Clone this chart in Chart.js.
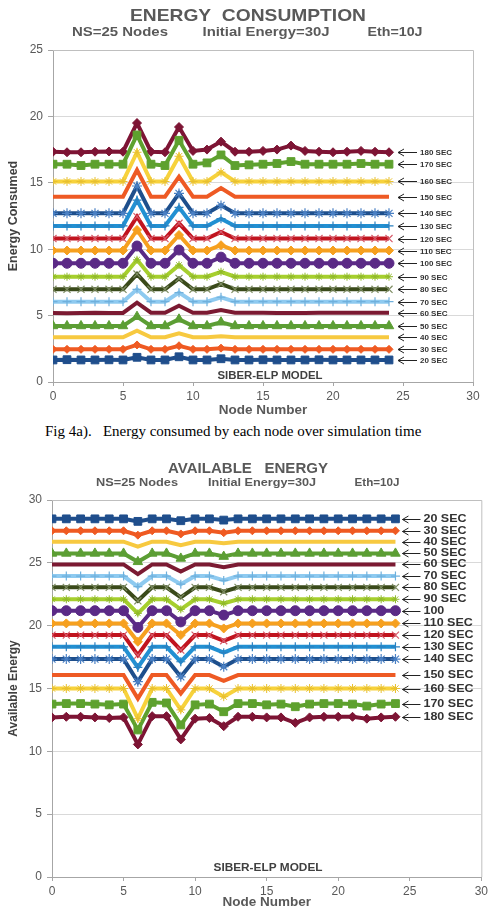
<!DOCTYPE html>
<html>
<head>
<meta charset="utf-8">
<script src="https://cdn.jsdelivr.net/npm/chart.js@4/dist/chart.umd.min.js"></script>
<style>
  html, body { margin: 0; padding: 0; background: #fff; }
  body { width: 491px; height: 907px; position: relative; overflow: hidden; }
  .box { position: absolute; left: 0; width: 491px; }
  #boxA { top: 0; height: 418px; }
  #boxB { top: 440px; height: 470px; }
  #caption {
    position: absolute; top: 423px; left: 45px;
    font: 15px "Liberation Serif", "Times New Roman", serif;
    color: #000; white-space: pre;
  }
</style>
</head>
<body>
<div class="box" id="boxA"><canvas id="chartA"></canvas></div>
<div id="caption">Fig 4a).   Energy consumed by each node over simulation time</div>
<div class="box" id="boxB"><canvas id="chartB"></canvas></div>
<script>
// ---------- data ----------
const nodes = [0, 1, 2, 3, 4, 5, 6, 7, 8, 9, 10, 11, 12, 13, 14, 15, 16, 17, 18, 19, 20, 21, 22, 23, 24];
const xTicks = [0, 5, 10, 15, 20, 25, 30];
const yTicksTop = [0, 5, 10, 15, 20, 25];
const yTicksBottom = [0, 5, 10, 15, 20, 25, 30];

const labelsTop = ["20 SEC", "30 SEC", "40 SEC", "50 SEC", "60 SEC", "70 SEC", "80 SEC", "90 SEC", "100 SEC",
  "110 SEC", "120 SEC", "130 SEC", "140 SEC", "150 SEC", "160 SEC", "170 SEC", "180 SEC"];
const labelsBottom = ["20 SEC", "30 SEC", "40 SEC", "50 SEC", "60 SEC", "70 SEC", "80 SEC", "90 SEC", "100",
  "110 SEC", "120 SEC", "130 SEC", "140 SEC", "150 SEC", "160 SEC", "170 SEC", "180 SEC"];

// energy consumed (top chart)
const used20  = [1.66, 1.68, 1.66, 1.66, 1.67, 1.66, 1.86, 1.66, 1.66, 1.90, 1.66, 1.66, 1.75, 1.66, 1.66, 1.67, 1.66, 1.66, 1.66, 1.67, 1.66, 1.66, 1.66, 1.66, 1.66];
const used30  = [2.46, 2.46, 2.46, 2.46, 2.46, 2.46, 2.79, 2.46, 2.46, 2.73, 2.46, 2.46, 2.55, 2.46, 2.46, 2.46, 2.46, 2.46, 2.46, 2.46, 2.46, 2.46, 2.46, 2.46, 2.46];
const used40  = [3.37, 3.37, 3.37, 3.37, 3.37, 3.37, 3.86, 3.37, 3.37, 3.67, 3.37, 3.37, 3.45, 3.37, 3.37, 3.37, 3.37, 3.37, 3.37, 3.37, 3.37, 3.37, 3.37, 3.37, 3.37];
const used50  = [4.22, 4.22, 4.22, 4.22, 4.22, 4.22, 4.92, 4.22, 4.22, 4.72, 4.22, 4.22, 4.50, 4.22, 4.22, 4.22, 4.22, 4.22, 4.22, 4.22, 4.22, 4.22, 4.22, 4.22, 4.22];
const used60  = [5.20, 5.18, 5.20, 5.22, 5.20, 5.20, 5.97, 5.22, 5.22, 5.75, 5.22, 5.22, 5.42, 5.22, 5.22, 5.22, 5.20, 5.20, 5.20, 5.22, 5.22, 5.22, 5.22, 5.22, 5.22];
const used70  = [6.05, 6.05, 6.05, 6.05, 6.05, 6.05, 6.98, 6.05, 6.05, 6.73, 6.05, 6.05, 6.38, 6.05, 6.05, 6.05, 6.05, 6.05, 6.05, 6.05, 6.05, 6.05, 6.05, 6.05, 6.05];
const used80  = [6.98, 6.98, 6.98, 6.98, 6.98, 6.98, 8.13, 6.98, 6.98, 7.80, 6.98, 6.98, 7.38, 6.98, 6.98, 6.98, 6.98, 6.98, 6.98, 6.98, 6.98, 6.98, 6.98, 6.98, 6.98];
const used90  = [7.93, 7.93, 7.93, 7.93, 7.93, 7.93, 9.20, 7.93, 7.93, 8.80, 7.93, 7.93, 8.30, 7.93, 7.93, 7.93, 7.93, 7.93, 7.93, 7.93, 7.93, 7.93, 7.93, 7.93, 7.93];
const used100 = [8.94, 8.94, 8.94, 8.94, 8.94, 8.94, 10.24, 8.94, 8.94, 9.94, 8.94, 8.94, 9.40, 8.94, 8.94, 8.94, 8.94, 8.94, 8.94, 8.94, 8.94, 8.94, 8.94, 8.94, 8.94];
const used110 = [9.90, 9.90, 9.90, 9.90, 9.90, 9.90, 11.45, 9.90, 9.90, 11.07, 9.90, 9.90, 10.30, 9.90, 9.90, 9.90, 9.90, 9.90, 9.90, 9.90, 9.90, 9.90, 9.90, 9.90, 9.90];
const used120 = [10.80, 10.80, 10.80, 10.80, 10.80, 10.80, 12.45, 10.80, 10.80, 11.95, 10.80, 10.80, 11.30, 10.80, 10.80, 10.80, 10.80, 10.80, 10.80, 10.80, 10.80, 10.80, 10.80, 10.80, 10.80];
const used130 = [11.75, 11.75, 11.75, 11.75, 11.75, 11.75, 13.70, 11.75, 11.75, 13.15, 11.75, 11.75, 12.30, 11.75, 11.75, 11.75, 11.75, 11.75, 11.75, 11.75, 11.75, 11.75, 11.75, 11.75, 11.75];
const used140 = [12.70, 12.70, 12.70, 12.70, 12.70, 12.70, 14.76, 12.70, 12.70, 14.20, 12.70, 12.70, 13.30, 12.70, 12.70, 12.70, 12.70, 12.70, 12.70, 12.70, 12.70, 12.70, 12.70, 12.70, 12.70];
const used150 = [13.95, 13.95, 13.95, 13.95, 13.95, 13.95, 15.96, 13.95, 13.95, 15.46, 13.95, 13.95, 14.60, 13.95, 13.95, 13.95, 13.95, 13.95, 13.95, 13.95, 13.95, 13.95, 13.95, 13.95, 13.95];
const used160 = [15.10, 15.10, 15.10, 15.10, 15.10, 15.10, 17.30, 15.10, 15.10, 17.00, 15.10, 15.10, 15.80, 15.10, 15.10, 15.10, 15.10, 15.10, 15.10, 15.10, 15.10, 15.10, 15.10, 15.10, 15.10];
const used170 = [16.40, 16.40, 16.30, 16.40, 16.40, 16.40, 18.60, 16.40, 16.30, 18.20, 16.40, 16.50, 17.10, 16.30, 16.35, 16.40, 16.45, 16.60, 16.40, 16.40, 16.40, 16.40, 16.45, 16.40, 16.40];
const used180 = [17.34, 17.30, 17.30, 17.34, 17.36, 17.34, 19.50, 17.34, 17.30, 19.20, 17.40, 17.50, 18.10, 17.34, 17.34, 17.40, 17.50, 17.80, 17.40, 17.34, 17.30, 17.34, 17.40, 17.34, 17.30];

// available energy (bottom chart)
const avail20  = [28.50, 28.50, 28.50, 28.50, 28.50, 28.50, 28.30, 28.50, 28.50, 28.35, 28.50, 28.50, 28.40, 28.50, 28.50, 28.50, 28.50, 28.50, 28.50, 28.50, 28.50, 28.50, 28.50, 28.50, 28.50];
const avail30  = [27.55, 27.55, 27.55, 27.55, 27.55, 27.55, 27.20, 27.55, 27.55, 27.30, 27.55, 27.55, 27.40, 27.55, 27.55, 27.55, 27.55, 27.55, 27.55, 27.55, 27.55, 27.55, 27.55, 27.55, 27.55];
const avail40  = [26.68, 26.68, 26.68, 26.68, 26.68, 26.68, 26.28, 26.68, 26.68, 26.40, 26.68, 26.68, 26.55, 26.68, 26.68, 26.68, 26.68, 26.68, 26.68, 26.68, 26.68, 26.68, 26.68, 26.68, 26.68];
const avail50  = [25.75, 25.75, 25.75, 25.75, 25.75, 25.75, 25.08, 25.75, 25.75, 25.35, 25.75, 25.75, 25.50, 25.75, 25.75, 25.75, 25.75, 25.75, 25.75, 25.75, 25.75, 25.75, 25.75, 25.75, 25.75];
const avail60  = [24.87, 24.87, 24.87, 24.87, 24.87, 24.87, 24.10, 24.87, 24.87, 24.30, 24.87, 24.87, 24.65, 24.87, 24.87, 24.87, 24.87, 24.87, 24.87, 24.87, 24.87, 24.87, 24.87, 24.87, 24.87];
const avail70  = [23.95, 23.95, 23.95, 23.95, 23.95, 23.95, 23.10, 23.95, 23.95, 23.30, 23.95, 23.95, 23.60, 23.95, 23.95, 23.95, 23.95, 23.95, 23.95, 23.95, 23.95, 23.95, 23.95, 23.95, 23.95];
const avail80  = [23.05, 23.05, 23.05, 23.05, 23.05, 23.05, 21.98, 23.05, 23.05, 22.25, 23.05, 23.05, 22.70, 23.05, 23.05, 23.05, 23.05, 23.05, 23.05, 23.05, 23.05, 23.05, 23.05, 23.05, 23.05];
const avail90  = [22.10, 22.10, 22.10, 22.10, 22.10, 22.10, 20.98, 22.10, 22.10, 21.30, 22.10, 22.10, 21.77, 22.10, 22.10, 22.10, 22.10, 22.10, 22.10, 22.10, 22.10, 22.10, 22.10, 22.10, 22.10];
const avail100 = [21.19, 21.19, 21.19, 21.19, 21.19, 21.19, 19.86, 21.19, 21.19, 20.30, 21.19, 21.19, 20.84, 21.19, 21.19, 21.19, 21.19, 21.19, 21.19, 21.19, 21.19, 21.19, 21.19, 21.19, 21.19];
const avail110 = [20.18, 20.18, 20.18, 20.18, 20.18, 20.18, 18.72, 20.18, 20.18, 19.25, 20.18, 20.18, 19.78, 20.18, 20.18, 20.18, 20.18, 20.18, 20.18, 20.18, 20.18, 20.18, 20.18, 20.18, 20.18];
const avail120 = [19.25, 19.25, 19.25, 19.25, 19.25, 19.25, 17.66, 19.25, 19.25, 18.06, 19.25, 19.25, 18.80, 19.25, 19.25, 19.25, 19.25, 19.25, 19.25, 19.25, 19.25, 19.25, 19.25, 19.25, 19.25];
const avail130 = [18.32, 18.32, 18.32, 18.32, 18.32, 18.32, 16.68, 18.32, 18.32, 17.13, 18.32, 18.32, 17.85, 18.32, 18.32, 18.32, 18.32, 18.32, 18.32, 18.32, 18.32, 18.32, 18.32, 18.32, 18.32];
const avail140 = [17.34, 17.34, 17.34, 17.34, 17.34, 17.34, 15.54, 17.34, 17.34, 15.93, 17.34, 17.34, 16.73, 17.34, 17.34, 17.34, 17.34, 17.34, 17.34, 17.34, 17.34, 17.34, 17.34, 17.34, 17.34];
const avail150 = [16.07, 16.07, 16.07, 16.07, 16.07, 16.07, 14.20, 16.07, 16.07, 14.60, 16.07, 16.07, 15.60, 16.07, 16.07, 16.07, 16.07, 16.07, 16.07, 16.07, 16.07, 16.07, 16.07, 16.07, 16.07];
const avail160 = [15.00, 15.00, 15.00, 15.00, 15.00, 15.00, 12.60, 15.00, 15.00, 13.30, 15.00, 15.00, 14.35, 15.00, 15.00, 15.00, 15.00, 15.00, 15.00, 15.00, 15.00, 15.00, 15.00, 15.00, 15.00];
const avail170 = [13.76, 13.80, 13.80, 13.76, 13.70, 13.76, 11.70, 13.90, 13.85, 12.10, 13.70, 13.76, 13.15, 13.80, 13.80, 13.70, 13.76, 13.55, 13.76, 13.80, 13.80, 13.76, 13.60, 13.76, 13.80];
const avail180 = [12.70, 12.75, 12.75, 12.70, 12.65, 12.70, 10.55, 12.80, 12.80, 10.95, 12.60, 12.65, 12.00, 12.75, 12.75, 12.70, 12.70, 12.27, 12.70, 12.75, 12.75, 12.75, 12.60, 12.70, 12.75];

const usedSeries = [used20, used30, used40, used50, used60, used70, used80, used90, used100,
  used110, used120, used130, used140, used150, used160, used170, used180];
const availSeries = [avail20, avail30, avail40, avail50, avail60, avail70, avail80, avail90, avail100,
  avail110, avail120, avail130, avail140, avail150, avail160, avail170, avail180];

// ---------- styles ----------
const lineColors = ["#1f4e8c", "#ef5a22", "#f7c940", "#5c9e34", "#7b1a32", "#8ecaf0", "#3a4a1a", "#a6cf2e", "#5b2a86",
  "#f6a01f", "#c1141f", "#2290d2", "#1e4f8c", "#ee5a24", "#f7d23c", "#5ea12e", "#7d1434"];
const markColors = ["#1f4e8c", "#ef5a22", "#f7c940", "#5c9e34", "#7b1a32", "#6fb0dc", "#7d8c62", "#8fb82a", "#5b2a86",
  "#f6a01f", "#d65a6a", "#2a80c0", "#4a80c4", "#ee5a24", "#e8c030", "#5ea12e", "#7d1434"];
const markers = [
  ["rect", 5.5, 1], ["rectRot", 4, 1], [false, 0, 1], ["triangle", 5.5, 1], [false, 0, 1],
  ["cross", 4.5, 1.2], ["crossRot", 5, 1.2], ["star", 4, 1], ["circle", 5, 1],
  ["rectRot", 4.5, 1], ["crossRot", 5, 1.2], ["cross", 4.5, 1.2], ["star", 5, 1.2],
  [false, 0, 1], ["star", 4.5, 1], ["rect", 5.5, 1], ["rectRot", 4.5, 1]
];

Chart.defaults.font.family = '"Liberation Sans", Arial, sans-serif';

// text squeezed/stretched to a given width
function fitText(ctx, text, cx, cy, w, font) {
  ctx.font = font;
  const m = ctx.measureText(text).width;
  ctx.save();
  ctx.translate(cx, cy);
  ctx.scale(w / m, 1);
  ctx.textAlign = "center";
  ctx.textBaseline = "middle";
  ctx.fillText(text, 0, 0);
  ctx.restore();
}

/* ---------- overlay: frame, titles, model tag, arrow labels ---------- */
const overlay = {
  id: "overlay",
  beforeDatasetsDraw(chart) {
    const { ctx, chartArea: a } = chart;
    ctx.save();
    ctx.strokeStyle = "#bfbfbf";
    ctx.lineWidth = 1;
    ctx.beginPath();
    ctx.moveTo(a.left, a.top + 0.5);
    ctx.lineTo(a.right + 0.5, a.top + 0.5);
    ctx.lineTo(a.right + 0.5, a.bottom);
    ctx.stroke();
    ctx.restore();
  },
  afterDraw(chart, args, o) {
    const { ctx } = chart;
    ctx.save();
    ctx.fillStyle = "#595959";
    fitText(ctx, o.title, o.titleX, o.titleY, o.titleW, o.titleFont);
    o.sub.forEach((s) => fitText(ctx, s[0], s[1], o.subY, s[2], o.subFont));
    ctx.fillStyle = "#404040";
    fitText(ctx, "SIBER-ELP MODEL", o.modelX, o.modelY, o.modelW, "bold 10px 'Liberation Sans'");

    // arrows + series names
    ctx.strokeStyle = "#222";
    ctx.fillStyle = "#333";
    ctx.lineWidth = 1;
    chart.data.datasets.forEach((ds, i) => {
      const pts = chart.getDatasetMeta(i).data;
      const p = pts[pts.length - 1];
      const y = Math.round(p.y) + 0.5;
      const hx = p.x + o.gap;
      ctx.beginPath();
      ctx.moveTo(hx + 6, y - 3.5);
      ctx.lineTo(hx, y);
      ctx.lineTo(hx + 6, y + 3.5);
      ctx.moveTo(hx, y);
      ctx.lineTo(hx + o.shaft, y);
      ctx.stroke();
      ctx.font = o.labelFont;
      const w = ctx.measureText(ds.label).width * o.stretch;
      fitText(ctx, ds.label, hx + o.shaft + 3 + w / 2, y, w, o.labelFont);
    });
    ctx.restore();
  },
};

function buildChart(id, series, names, yMax, yTicks, yTitle, cfg) {
  return new Chart(document.getElementById(id), {
    type: "line",
    data: {
      datasets: series.map((vals, i) => ({
        label: names[i],
        data: vals.map((v, j) => ({ x: nodes[j], y: v })),
        borderColor: lineColors[i],
        backgroundColor: lineColors[i],
        borderWidth: 4,
        tension: 0,
        pointStyle: markers[i][0],
        pointRadius: markers[i][1],
        pointBorderWidth: markers[i][2],
        pointBackgroundColor: markColors[i],
        pointBorderColor: markColors[i],
      })),
    },
    options: {
      responsive: true,
      maintainAspectRatio: false,
      animation: false,
      layout: { padding: cfg.pad },
      plugins: { legend: { display: false }, tooltip: { enabled: false }, overlay: cfg.overlay },
      scales: {
        x: {
          type: "linear", min: 0, max: 30,
          afterBuildTicks: (s) => { s.ticks = xTicks.map((v) => ({ value: v })); },
          ticks: { color: "#595959", font: { size: 12 }, padding: 3 },
          grid: { drawOnChartArea: false, tickLength: 4, tickColor: "#a6a6a6" },
          border: { color: "#a6a6a6" },
          title: { display: true, text: "Node Number", color: "#595959", font: { size: 13.5, weight: "bold" }, padding: 0 },
          afterFit: (s) => { s.height = cfg.xh; },
        },
        y: {
          min: 0, max: yMax,
          afterBuildTicks: (s) => { s.ticks = yTicks.map((v) => ({ value: v })); },
          ticks: { color: "#595959", font: { size: 12 }, padding: 5 },
          grid: { color: "#d9d9d9", tickLength: 5, tickColor: "#a6a6a6" },
          border: { color: "#a6a6a6" },
          title: { display: true, text: yTitle, color: "#404040", font: { size: cfg.ytSize, weight: "bold" }, padding: { top: 6, bottom: 0 } },
          afterFit: (s) => { s.width = cfg.yw; },
        },
      },
    },
    plugins: [overlay],
  });
}

buildChart("chartA", usedSeries, labelsTop, 25, yTicksTop, "Energy Consumed", {
  pad: { top: 50, right: 18, left: 0, bottom: 0 },
  xh: 36, yw: 53, ytSize: 12.5,
  overlay: {
    title: "ENERGY  CONSUMPTION", titleX: 248, titleY: 16, titleW: 236, titleFont: "bold 17px 'Liberation Sans'",
    subY: 32, subFont: "bold 13px 'Liberation Sans'",
    sub: [["NS=25 Nodes", 120, 96], ["Initial Energy=30J", 266, 127], ["Eth=10J", 395, 55]],
    modelX: 270, modelY: 376, modelW: 105,
    gap: 9, shaft: 19, labelFont: "bold 8px 'Liberation Sans'", stretch: 1.0,
  },
});

buildChart("chartB", availSeries, labelsBottom, 30, yTicksBottom, "Available Energy", {
  pad: { top: 60, right: 9, left: 0, bottom: 0 },
  xh: 33, yw: 52, ytSize: 12,
  overlay: {
    title: "AVAILABLE   ENERGY", titleX: 248, titleY: 29, titleW: 160, titleFont: "bold 14px 'Liberation Sans'",
    subY: 43, subFont: "bold 10px 'Liberation Sans'",
    sub: [["NS=25 Nodes", 137, 82], ["Initial Energy=30J", 262, 108], ["Eth=10J", 377, 45]],
    modelX: 268, modelY: 428, modelW: 109,
    gap: 7, shaft: 18, labelFont: "bold 10px 'Liberation Sans'", stretch: 1.25,
  },
});
</script>
</body>
</html>
